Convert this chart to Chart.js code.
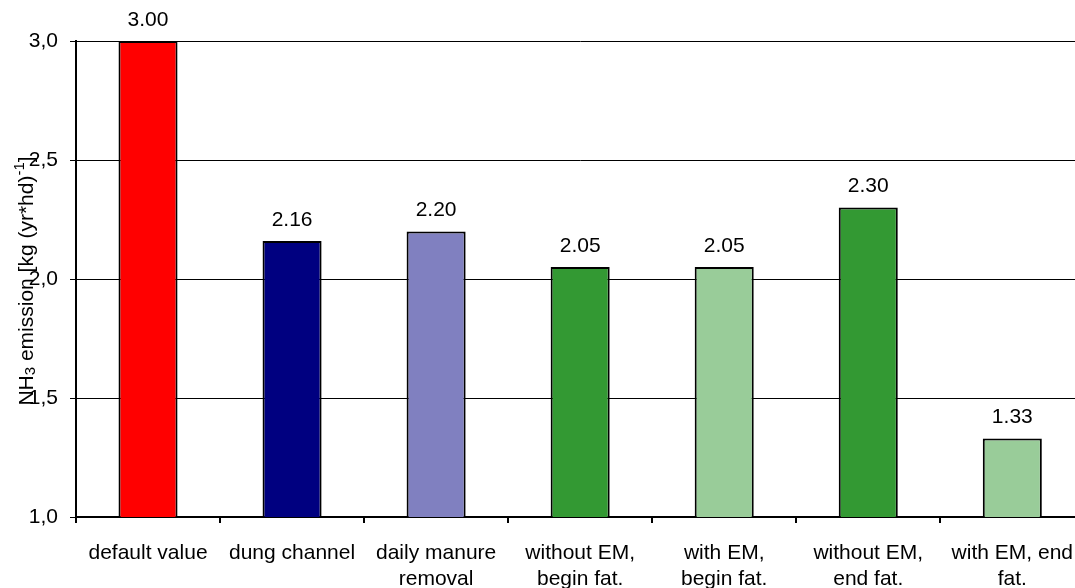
<!DOCTYPE html>
<html>
<head>
<meta charset="utf-8">
<script src="https://cdn.jsdelivr.net/npm/chart.js@4"></script>
<style>
html,body{margin:0;padding:0;background:#fff;overflow:hidden;}
#wrap{width:1091px;height:588px;}
</style>
</head>
<body>
<div id="wrap"><canvas id="c" width="1091" height="588"></canvas></div>
<script>
const categories = [
  ["default value"],
  ["dung channel"],
  ["daily manure", "removal"],
  ["without EM,", "begin fat."],
  ["with EM,", "begin fat."],
  ["without EM,", "end fat."],
  ["with EM, end", "fat."]
];
const emissions = [3.00, 2.16, 2.20, 2.05, 2.05, 2.30, 1.33];
const barColors = ["#FF0000", "#000080", "#8080C0", "#339933", "#99CC99", "#339933", "#99CC99"];
const yMin = 1.0, yMax = 3.0, yStep = 0.5;

const FONT = "'Liberation Sans', Arial, sans-serif";

const valueLabels = {
  id: 'valueLabels',
  afterDatasetsDraw(chart) {
    const ctx = chart.ctx;
    const meta = chart.getDatasetMeta(0);
    ctx.save();
    ctx.font = "21px " + FONT;
    ctx.fillStyle = "#000";
    ctx.textAlign = "center";
    ctx.textBaseline = "middle";
    meta.data.forEach((el, i) => {
      ctx.fillText(emissions[i].toFixed(2), el.x, el.y - 21);
    });
    ctx.restore();
  }
};

const yTitle = {
  id: 'yTitle',
  afterDraw(chart) {
    const ctx = chart.ctx;
    const big = "21px " + FONT, small = "15px " + FONT;
    const parts = [
      {t: "NH", f: big, dy: 0},
      {t: "3", f: small, dy: 2},
      {t: " emission [kg (yr*hd)", f: big, dy: 0},
      {t: "-1", f: small, dy: -9},
      {t: "]", f: big, dy: 0}
    ];
    ctx.save();
    let total = 0;
    parts.forEach(p => { ctx.font = p.f; p.w = ctx.measureText(p.t).width; total += p.w; });
    ctx.translate(33, 281);
    ctx.rotate(-Math.PI / 2);
    ctx.fillStyle = "#000";
    ctx.textBaseline = "alphabetic";
    ctx.textAlign = "left";
    let x = -total / 2;
    parts.forEach(p => { ctx.font = p.f; ctx.fillText(p.t, x, p.dy); x += p.w; });
    ctx.restore();
  }
};

new Chart(document.getElementById('c'), {
  type: 'bar',
  data: {
    labels: categories,
    datasets: [{
      data: emissions,
      backgroundColor: barColors,
      borderColor: "#000",
      borderWidth: 2,
      borderSkipped: false,
      categoryPercentage: 1.0,
      barPercentage: 0.41
    }]
  },
  options: {
    responsive: false,
    animation: false,
    events: [],
    layout: {padding: {top: 41, left: 0, right: 0, bottom: 0}},
    plugins: {legend: {display: false}, tooltip: {enabled: false}, title: {display: false}},
    scales: {
      x: {
        offset: true,
        grid: {offset: true, drawOnChartArea: false, drawTicks: true, tickLength: 6, color: "#000", lineWidth: 2},
        border: {display: true, color: "#000", width: 2},
        ticks: {color: "#000", font: {family: FONT, size: 21}, padding: 18, maxRotation: 0, autoSkip: false},
        afterFit(s) { s.height = 71; }
      },
      y: {
        min: yMin, max: yMax,
        grid: {color: "#000", lineWidth: 1, tickLength: 6, drawTicks: true},
        border: {display: true, color: "#000", width: 2},
        ticks: {
          stepSize: yStep, color: "#000", font: {family: FONT, size: 21}, padding: 12,
          callback: v => v.toFixed(1).replace('.', ',')
        },
        afterFit(s) { s.width = 76; }
      }
    }
  },
  plugins: [valueLabels, yTitle]
});
</script>
</body>
</html>
